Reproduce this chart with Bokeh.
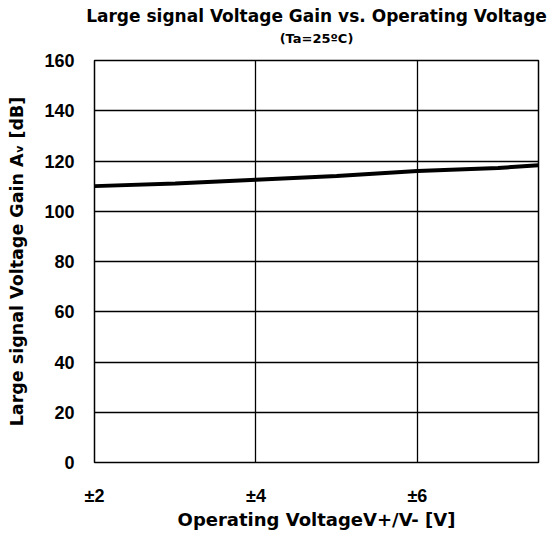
from bokeh.plotting import figure
from bokeh.models import FixedTicker, Range1d, Title
from bokeh.embed import file_html
from bokeh.resources import INLINE

volts = [2, 3, 4, 5, 6, 7, 7.5]
gain_db = [110.0, 111.0, 112.5, 114.0, 116.0, 117.2, 118.3]
x_ticks = [2, 4, 6]
x_tick_labels = ["±2", "±4", "±6"]
y_ticks = [0, 20, 40, 60, 80, 100, 120, 140, 160]

TICK_FONT = "Liberation Sans"
LABEL_FONT = "DejaVu Sans"

p = figure(width=552, height=532, output_backend="svg", toolbar_location=None,
           x_range=Range1d(2, 7.5), y_range=Range1d(0, 160),
           min_border_left=94, min_border_right=14, min_border_top=60, min_border_bottom=69)

p.title.visible = False
sub = Title(text="(Ta=25ºC)", align="center", text_font=LABEL_FONT, text_font_size="13px",
            text_font_style="bold", text_color="black", standoff=29)
main = Title(text="Large signal Voltage Gain vs. Operating Voltage", align="center",
             text_font=LABEL_FONT, text_font_size="17px", text_font_style="bold",
             text_color="black", standoff=-22)
p.add_layout(sub, "above")
p.add_layout(main, "above")

p.line(volts, gain_db, line_color="black", line_width=4)

p.outline_line_color = "black"
p.outline_line_width = 1.5

for ax in (p.xaxis[0], p.yaxis[0]):
    ax.axis_line_color = None
    ax.major_tick_line_color = None
    ax.minor_tick_line_color = None
    ax.major_label_text_font = TICK_FONT
    ax.major_label_text_font_size = "18px"
    ax.major_label_text_font_style = "bold"
    ax.major_label_text_color = "black"
    ax.axis_label_text_font = LABEL_FONT
    ax.axis_label_text_font_size = "18px"
    ax.axis_label_text_font_style = "bold"
    ax.axis_label_text_color = "black"

p.xaxis.ticker = FixedTicker(ticks=x_ticks)
p.xaxis.major_label_overrides = dict(zip(x_ticks, x_tick_labels))
p.xaxis.major_label_standoff = 17
p.xaxis.axis_label = "Operating VoltageV+/V- [V]"
p.xaxis.axis_label_standoff = 0

p.yaxis.ticker = FixedTicker(ticks=y_ticks)
p.yaxis.major_label_standoff = 14
p.yaxis.axis_label = "Large signal Voltage Gain Aᵥ [dB]"
p.yaxis.axis_label_text_font_size = "17.5px"
p.yaxis.axis_label_standoff = 14

p.xgrid.grid_line_color = "black"
p.ygrid.grid_line_color = "black"
p.xgrid.grid_line_width = 1.3
p.ygrid.grid_line_width = 1.3
p.xgrid.grid_line_alpha = 1
p.ygrid.grid_line_alpha = 1

open("out.html", "w").write(file_html(p, INLINE))
